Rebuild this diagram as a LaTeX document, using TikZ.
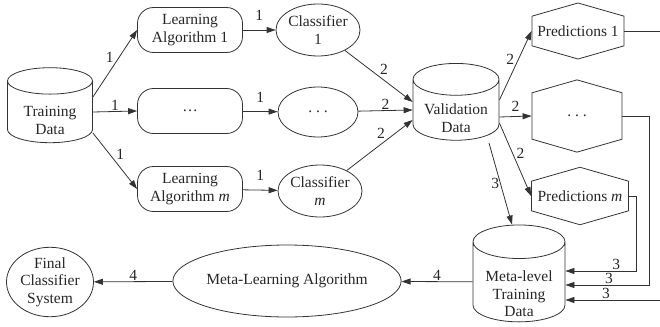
\documentclass[tikz,border=0pt]{standalone}
\usepackage{fontspec}
\setmainfont{Liberation Serif}
\usetikzlibrary{shapes.geometric,shapes.symbols,arrows.meta}

\newcommand{\dropline}[1]{\rule{0pt}{#1}}

\tikzset{
  every node/.style={font=\fontsize{15.5}{17.5}\selectfont, text=black!85},
  dbase/.style={draw, cylinder, shape border rotate=90, aspect=0.5, align=center, inner xsep=0pt, inner ysep=-#1},
  algo/.style={draw, rounded corners=16pt, minimum width=105pt, minimum height=45pt, align=center},
  clf/.style={draw, ellipse, inner sep=0pt, align=center},
  pred/.style={draw, signal, signal to=north and south, signal pointer angle=148, minimum width=92pt, minimum height=53pt, inner sep=0pt},
  arr/.style={-{Triangle[length=9pt,width=6pt]}},
  num/.style={inner sep=1pt},
}

\begin{document}
\begin{tikzpicture}[x=1pt, y=-1pt, line width=0.8pt, draw=black!80]
  \useasboundingbox (0,0) rectangle (660,326);
  \clip (0,0) rectangle (660,326);
  % data stores
  \node[dbase=8pt, minimum width=85pt, minimum height=75pt] (td) at (50,112) {\dropline{27pt}Training\\Data};
  \node[dbase=8pt, minimum width=86pt, minimum height=76pt] (vd) at (456,110) {\dropline{27pt}Validation\\Data};
  \node[dbase=12pt, minimum width=92pt, minimum height=80pt] (ml) at (519,282) {\dropline{35pt}Meta-level\\Training\\Data};
  % base learners
  \node[algo] (la1) at (190,30) {Learning\\Algorithm 1};
  \node[algo] (la2) at (190,111) {…};
  \node[algo] (lam) at (190,189) {Learning\\Algorithm \textit{m}};
  \node[clf, minimum width=80pt, minimum height=52pt] (c1) at (318,30) {Classifier\\1};
  \node[clf, minimum width=80pt, minimum height=50pt] (c2) at (318,112) {.~.~.};
  \node[clf, minimum width=82pt, minimum height=52pt] (cm) at (320,191) {Classifier\\\textit{m}};
  % predictions
  \node[pred] (p1) at (578,31) {Predictions 1};
  \node[pred, minimum width=90pt, minimum height=52pt] (p2) at (577,116) {.~.~.};
  \node[pred, minimum width=97pt, minimum height=54pt] (pm) at (580,196) {Predictions \textit{m}};
  % meta level
  \node[clf, minimum width=191pt, minimum height=72pt] (mla) at (287,281) {Meta-Learning Algorithm};
  \node[clf, minimum width=87pt, minimum height=50pt] (fin) at (50,282) {Final\\Classifier\\System};

  \draw[arr] ([yshift=15pt]td.east) -- (la1.west) node[num, midway, above left] {1};
  \draw[arr] (td.east) -- (la2.west) node[num, midway, above] {1};
  \draw[arr] ([yshift=-21pt]td.east) -- (lam.west) node[num, midway, above right] {1};
  \draw[arr] (la1) -- (c1) node[num, midway, above=8pt] {1};
  \draw[arr] (la2) -- (c2) node[num, midway, above=8pt] {1};
  \draw[arr] (lam) -- (cm) node[num, midway, above=8pt] {1};
  \draw[arr] (c1) -- ([yshift=8pt]vd.west) node[num, midway, above right] {2};
  \draw[arr] (c2) -- (vd.west) node[num, midway, above] {2};
  \draw[arr] (cm) -- ([yshift=-10pt]vd.west) node[num, pos=0.6, above left] {2};
  \draw[arr] ([yshift=10pt]vd.east) -- (p1.west) node[num, midway, above left] {2};
  \draw[arr] ([yshift=-7pt]vd.east) -- (p2.west) node[num, midway, above=4pt] {2};
  \draw[arr] ([yshift=-13pt]vd.east) -- (pm.west) node[num, midway, above right] {2};
  \draw[arr] ([xshift=33pt,yshift=-33pt]vd.center) -- ([xshift=-7pt]ml.north) node[num, midway, left] {3};
  \draw[arr] (pm.east) -- ++(7,0) |- ([yshift=11pt]ml.east) node[num, pos=0.64, above] {3};
  \draw[arr] (p2.east) -- ++(27,0) |- ([yshift=-3pt]ml.east) node[num, pos=0.74, above] {3};
  \draw[arr] (p1.east) -- ++(60,0) |- ([yshift=-18pt]ml.east) node[num, pos=0.83, above] {3};
  \draw[arr] (ml) -- (mla) node[num, midway, above] {4};
  \draw[arr] (mla) -- (fin) node[num, midway, above] {4};
\end{tikzpicture}
\end{document}
